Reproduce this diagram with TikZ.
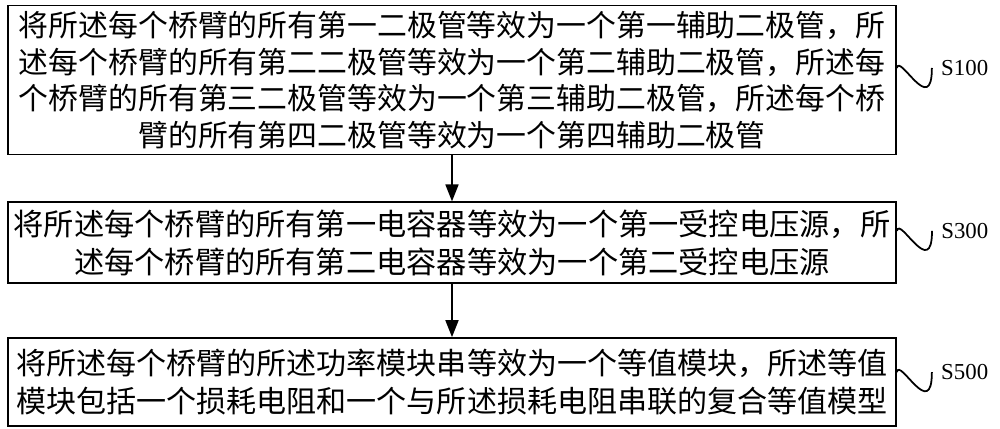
\documentclass[tikz,border=0pt]{standalone}
\usepackage{fontspec}
\setmainfont{Liberation Serif}
\newfontfamily\cjk{Noto Sans CJK SC}
\usetikzlibrary{arrows.meta, positioning, calc}
\tikzset{
  stepbox/.style = {
    draw,
    line width=1pt,
    align=center,
    minimum width=17.76cm,
    font=\cjk\fontsize{17pt}{20.8pt}\selectfont,
  },
  steplabel/.style = {
    inner sep=0pt,
    font=\fontsize{13pt}{15pt}\selectfont,
  },
  next/.style = {
    -{Triangle[length=3.4mm, width=2.6mm]},
    line width=1pt,
  },
  wave/.style = {
    line width=1pt,
  },
  node distance=0.92cm and 0.88cm,
}

\begin{document}
\begin{tikzpicture}
\useasboundingbox (0,0) rectangle (20,8.58);

\node(S100)[stepbox, minimum height=2.92cm] at (9.04,6.98) {
  将所述每个桥臂的所有第一二极管等效为一个第一辅助二极管，所\\
  述每个桥臂的所有第二二极管等效为一个第二辅助二极管，所述每\\
  个桥臂的所有第三二极管等效为一个第三辅助二极管，所述每个桥\\
  臂的所有第四二极管等效为一个第四辅助二极管
};

\node(S300)[stepbox, minimum height=1.62cm, below=of S100,
  font=\cjk\fontsize{17.2pt}{21.5pt}\selectfont] {
  将所述每个桥臂的所有第一电容器等效为一个第一受控电压源，所\\
  述每个桥臂的所有第二电容器等效为一个第二受控电压源
};
\draw[next] (S100) -- (S300);

\node(S500)[stepbox, minimum height=1.76cm, below=1.06cm of S300,
  font=\cjk\fontsize{17.1pt}{22pt}\selectfont] {
  将所述每个桥臂的所述功率模块串等效为一个等值模块，所述等值\\
  模块包括一个损耗电阻和一个与所述损耗电阻串联的复合等值模型
};
\draw[next] (S300) -- (S500);

% step labels
\node(L100)[steplabel, right=of S100.east, yshift=2.4mm] {S100};
\node(L300)[steplabel, right=of S300.east, yshift=2.4mm] {S300};
\node(L500)[steplabel, right=of S500.east, yshift=2mm] {S500};

\draw[wave] (S100.east |- L100.west)
  .. controls +(0.05,0.3) and +(0,-1.0) .. ($(L100.west)+(-0.18,0)$);
\draw[wave] (S300.east |- L300.west)
  .. controls +(0.05,0.3) and +(0,-1.0) .. ($(L300.west)+(-0.18,0)$);
\draw[wave] (S500.east |- L500.west)
  .. controls +(0.05,0.3) and +(0,-1.0) .. ($(L500.west)+(-0.18,0)$);

\end{tikzpicture}
\end{document}
